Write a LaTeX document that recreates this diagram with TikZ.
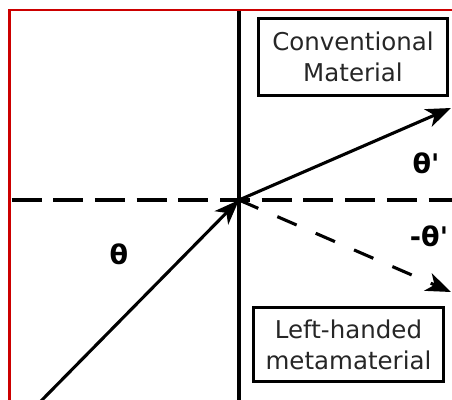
\documentclass[tikz,border=0pt]{standalone}
\usepackage{fontspec}
\setmainfont{DejaVu Sans}
\newfontfamily\angfont{DejaVu Sans}
\usetikzlibrary{arrows.meta}
\definecolor{bordred}{RGB}{204,0,0}
\begin{document}
\begin{tikzpicture}[x=1pt,y=-1pt,
  ln/.style={line width=3.1pt, black},
  tip/.style={-{Stealth[length=25pt,width=19pt,inset=7pt]}},
  boxnode/.style={draw, line width=2.8pt, align=center, text=black!85,
    font=\fontsize{24.5}{31}\selectfont, inner sep=0pt},
  ang/.style={font=\angfont\bfseries\fontsize{27}{30}\selectfont, inner sep=0pt}]
\useasboundingbox (0,0) rectangle (452,399);
\clip (0,0) rectangle (452,399);
% points
\coordinate (o) at (239,200);
\coordinate (vtop) at (239,9.8);
\coordinate (vbot) at (239,402);
\coordinate (hl) at (11.5,200);
\coordinate (hr) at (455,200);
\coordinate (src) at (41,401);
\coordinate (refr) at (451,108);
\coordinate (neg) at (451,292);
\coordinate (bl) at (9.3,402);
\coordinate (btl) at (9.3,9.8);
\coordinate (btr) at (455,9.8);
% lines
\draw[ln] (vtop) -- (vbot);
\draw[ln, dash pattern=on 30pt off 11.7pt] (hl) -- (hr);
\draw[ln, tip] (src) -- (o);
\draw[ln, tip] (o) -- (refr);
\draw[ln, tip, dash pattern=on 21pt off 20.8pt] (o) -- (neg);
\draw[bordred, line width=2.5pt] (bl) -- (btl) -- (btr);
% boxes
\node[boxnode, minimum width=189.4pt, minimum height=77.4pt] (conv) at (353,57) {Conventional\\Material};
\node[boxnode, minimum width=190.4pt, minimum height=74.4pt] (lhm) at (348.5,344.5) {Left-handed\\metamaterial};
% labels
\node[ang] (tp) at (426,163) {θ'};
\node[ang] (ntp) at (429,236) {-θ'};
\node[ang] (t) at (119,254) {θ};
\end{tikzpicture}
\end{document}
